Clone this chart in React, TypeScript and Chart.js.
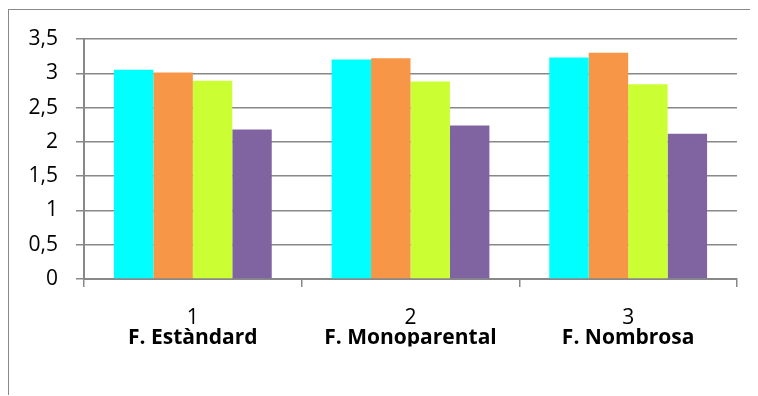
import React, { useEffect, useRef } from "react";
import { Chart, registerables } from "chart.js";

Chart.register(...registerables);

const categoryNumbers = ["1", "2", "3"];
const categoryNames = ["F. Estàndard", "F. Monoparental", "F. Nombrosa"];
const seriesA = [3.05, 3.2, 3.23];
const seriesB = [3.01, 3.22, 3.3];
const seriesC = [2.89, 2.88, 2.84];
const seriesD = [2.18, 2.24, 2.12];
const yTicks = [0, 0.5, 1, 1.5, 2, 2.5, 3, 3.5];

const FONT = "'Open Sans', 'Noto Sans', sans-serif";

export default function App() {
  const ref = useRef<HTMLCanvasElement | null>(null);

  useEffect(() => {
    if (!ref.current) return;
    const chart = new Chart(ref.current, {
      type: "bar",
      data: {
        labels: categoryNumbers,
        datasets: [
          { label: "A", data: seriesA, backgroundColor: "#00FFFF" },
          { label: "B", data: seriesB, backgroundColor: "#F79646" },
          { label: "C", data: seriesC, backgroundColor: "#CCFF33" },
          { label: "D", data: seriesD, backgroundColor: "#8064A2" },
        ].map((d) => ({
          ...d,
          xAxisID: "x",
          categoryPercentage: 0.725,
          barPercentage: 1.0,
          borderWidth: 0,
        })),
      },
      options: {
        animation: false,
        responsive: false,
        maintainAspectRatio: false,
        layout: { padding: { left: 19, right: 21, top: 29, bottom: 49.5 } },
        plugins: { legend: { display: false }, tooltip: { enabled: false } },
        scales: {
          x: {
            type: "category",
            position: "bottom",
            offset: true,
            afterFit: (s: any) => {
              s.height = 46.5;
            },
            grid: {
              offset: true,
              drawOnChartArea: false,
              drawTicks: true,
              tickLength: 8,
              color: "#888888",
              lineWidth: 1.5,
            },
            border: { display: true, color: "#888888", width: 2 },
            ticks: {
              color: "#000",
              padding: 20.5,
              font: { family: FONT, size: 21, lineHeight: 1 },
              maxRotation: 0,
              autoSkip: false,
            },
          },
          x2: {
            type: "category",
            position: "bottom",
            labels: categoryNames,
            offset: true,
            afterFit: (s: any) => {
              s.height = 21;
            },
            grid: { display: false, drawTicks: false, offset: true },
            border: { display: false },
            ticks: {
              color: "#000",
              padding: 2,
              font: { family: FONT, size: 21, weight: "bold", lineHeight: 1 },
              maxRotation: 0,
              autoSkip: false,
            },
          },
          y: {
            min: 0,
            max: 3.5,
            afterFit: (s: any) => {
              s.width = 56;
            },
            afterBuildTicks: (axis: any) => {
              axis.ticks = yTicks.map((v) => ({ value: v }));
            },
            grid: {
              color: "#888888",
              lineWidth: 1.5,
              drawTicks: true,
              tickLength: 8,
            },
            border: { display: true, color: "#888888", width: 2 },
            ticks: {
              color: "#000",
              padding: 18,
              font: { family: FONT, size: 21, lineHeight: 1 },
              callback: (v: any) => String(v).replace(".", ","),
            },
          },
        },
      },
    });
    return () => chart.destroy();
  }, []);

  return (
    <div
      style={{
        position: "relative",
        top: 1,
        width: 750,
        height: 387,
        boxSizing: "border-box",
        borderTop: "1px solid #888",
        borderLeft: "1px solid #888",
        overflow: "hidden",
      }}
    >
      <canvas ref={ref} width={749} height={386} style={{ display: "block" }} />
    </div>
  );
}
